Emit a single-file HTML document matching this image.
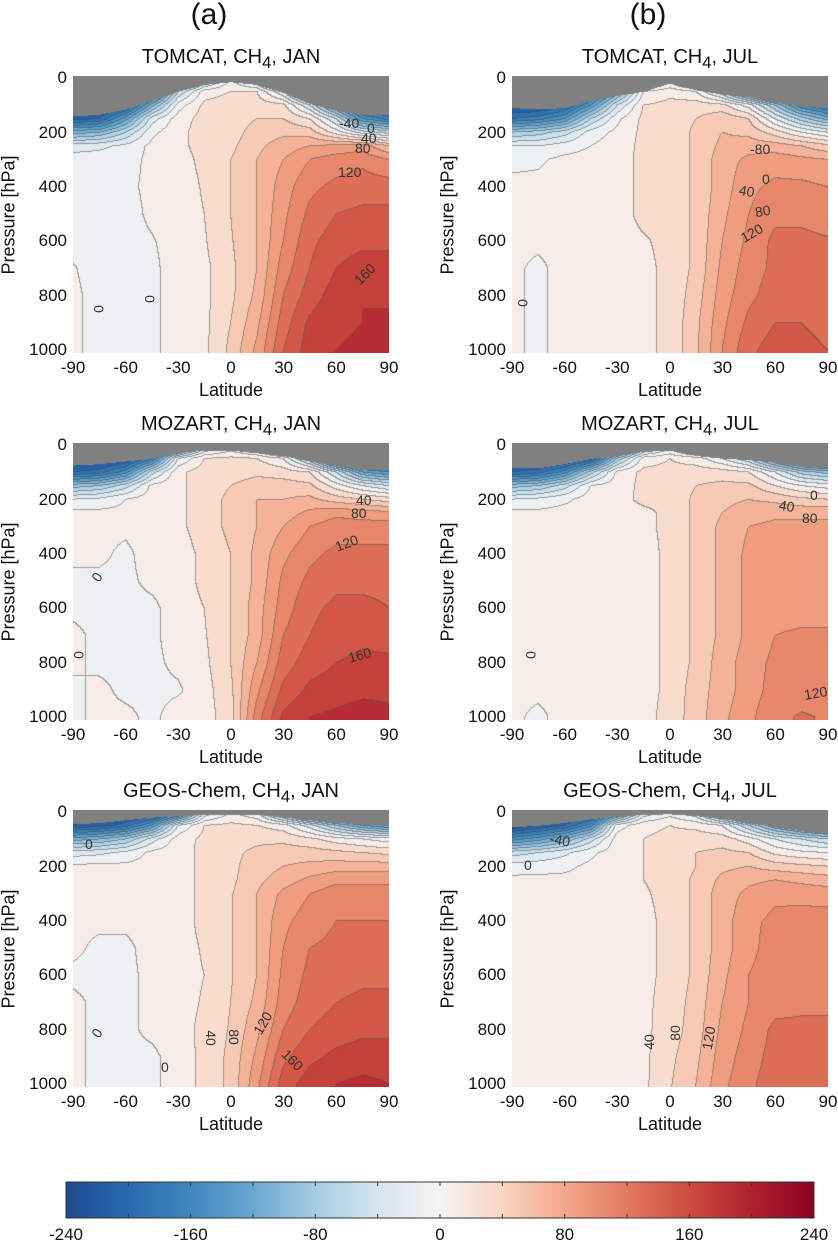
<!DOCTYPE html>
<html><head><meta charset="utf-8">
<style>
body{margin:0;background:#fff;}
#root{position:relative;width:838px;height:1242px;overflow:hidden;font-family:"Liberation Sans",Arial,sans-serif;color:#111;}
.t{position:absolute;white-space:nowrap;}
canvas{position:absolute;}
.tick{font-size:17px;}
.ttl{font-size:20px;transform:translateX(-50%);}
</style></head><body>
<div id="root"></div>
<script>
// ---- data ----
const lats=[-90,-75,-60,-45,-30,-15,0,15,30,45,60,75,90];
const pressures=[0,50,100,150,200,250,300,400,500,600,700,800,900,1000];
const latTicks=[-90,-60,-30,0,30,60,90];
const presTicks=[0,200,400,600,800,1000];
const cbarTicks=[-240,-160,-80,0,80,160,240];
// gray (no data) boundary pressure per latitude
const grayTomcatJan=[140,135,115,85,50,25,15,25,55,95,120,135,135];
const grayTomcatJul=[110,115,110,85,65,50,20,45,60,70,90,105,110];
const grayMozartJan=[75,70,60,50,30,20,20,30,40,60,75,90,90];
const grayMozartJul=[85,85,70,50,40,25,20,40,50,55,65,80,85];
const grayGeosJan=[45,40,30,20,15,10,10,10,20,30,40,45,50];
const grayGeosJul=[56,50,40,25,18,10,8,15,25,40,55,70,80];
// field values: one column per latitude, rows = pressures
const tomcatJan=[
[-240,-240,-240,-210,-110,-30,-10,-10,-10,-8,2,5,5,5],
[-240,-240,-240,-200,-100,-25,-10,-10,-10,-10,-10,-8,-8,-8],
[-240,-240,-220,-130,-60,-15,-8,-5,-10,-10,-10,-10,-10,-10],
[-240,-220,-110,-30,-5,5,5,5,5,-2,-5,-5,-5,-5],
[-200,-60,-10,10,15,15,12,10,10,10,10,10,10,10],
[-80,10,25,28,28,27,25,22,20,18,15,15,15,15],
[0,20,30,30,30,35,40,40,40,38,35,35,40,45],
[-60,20,30,40,50,55,60,60,60,60,60,65,75,85],
[-200,-40,25,40,55,70,80,90,95,100,110,120,130,140],
[-240,-160,-40,20,50,80,100,115,125,135,140,150,165,170],
[-240,-240,-140,-40,10,85,110,125,140,150,160,170,175,180],
[-240,-240,-220,-140,-30,90,115,130,145,155,170,180,180,185],
[-240,-240,-230,-170,-50,60,100,130,145,155,170,178,182,185]];
const tomcatJul=[
[-240,-240,-230,-180,-80,-20,-5,5,5,5,5,5,5,5],
[-240,-240,-230,-170,-70,-20,-3,5,5,5,-5,-5,-5,-5],
[-240,-240,-210,-140,-50,-10,5,8,8,8,8,8,8,8],
[-240,-210,-140,-60,-10,0,8,10,10,10,10,10,10,10],
[-240,-120,-40,-5,5,10,12,12,12,12,12,12,12,12],
[-120,0,20,25,25,25,25,25,25,18,15,15,15,15],
[-40,15,25,25,25,25,25,25,25,25,25,25,25,25],
[-120,0,30,40,45,45,45,45,45,45,45,50,55,55],
[-240,-60,25,55,60,65,70,70,75,80,85,90,95,100],
[-240,-160,-10,40,55,70,85,95,100,105,110,115,125,135],
[-240,-240,-80,-20,30,70,90,105,115,125,125,130,140,150],
[-240,-240,-160,-70,0,60,85,105,115,125,125,130,140,145],
[-240,-240,-190,-110,-20,45,80,100,110,122,125,130,135,140]];
const mozartJan=[
[-240,-240,-200,-90,-20,5,5,5,-5,-5,5,5,-5,-5],
[-240,-240,-190,-80,-15,5,5,5,-5,-5,-5,-5,5,5],
[-240,-230,-150,-50,0,5,5,-5,-5,-5,-5,-5,-5,5],
[-240,-170,-50,5,10,10,10,10,5,-5,-5,-5,-5,-5],
[-200,-20,15,15,15,15,15,10,10,10,10,5,-3,10],
[-60,20,30,30,30,30,30,25,25,20,18,15,12,12],
[-20,25,30,40,45,45,45,40,40,40,40,40,35,30],
[-60,20,35,50,60,60,60,65,65,70,70,80,95,110],
[-160,0,30,50,60,70,80,95,105,110,120,130,145,165],
[-240,-80,20,45,65,85,100,115,125,135,140,150,165,180],
[-240,-200,-40,10,50,95,110,125,135,145,150,160,170,185],
[-240,-240,-120,-20,40,90,110,125,135,145,155,165,175,190],
[-240,-240,-140,-40,30,85,110,125,135,140,150,165,175,185]];
const mozartJul=[
[-240,-240,-200,-90,-20,5,5,5,5,5,5,5,5,5],
[-240,-240,-190,-80,-15,5,5,5,5,5,5,5,5,-5],
[-240,-240,-150,-50,-5,8,8,8,8,8,8,8,8,8],
[-240,-210,-70,0,10,10,10,10,10,10,10,10,10,10],
[-240,-80,5,10,12,12,12,12,12,12,12,12,12,12],
[-100,10,25,25,25,15,15,12,12,12,12,12,12,12],
[-40,20,25,25,25,25,25,25,25,25,25,25,25,28],
[-120,10,30,40,45,45,45,45,45,45,45,45,50,50],
[-200,-20,30,45,55,60,65,65,65,65,65,70,70,75],
[-240,-60,20,45,60,70,80,85,85,85,85,90,90,95],
[-240,-140,-20,20,55,75,85,90,95,95,100,105,108,115],
[-240,-200,-70,0,45,75,85,90,95,95,102,108,112,122],
[-240,-220,-90,-10,40,75,85,90,95,95,102,108,110,118]];
const geosJan=[
[-240,-220,-110,-30,5,5,5,5,5,-5,5,5,5,5],
[-240,-210,-100,-25,5,5,5,5,-5,-5,-5,-5,-5,-5],
[-240,-190,-80,-15,5,5,5,5,-5,-5,-5,-5,-5,-5],
[-240,-140,-30,5,8,8,8,8,8,5,5,5,-5,-5],
[-200,-20,10,12,12,12,12,12,12,12,12,12,10,10],
[-40,20,25,25,25,25,25,25,22,20,22,25,25,25],
[0,25,30,35,35,35,38,38,38,38,40,42,45,45],
[-20,20,35,45,50,55,60,60,60,60,65,75,85,95],
[-120,10,35,50,60,70,85,95,100,105,110,120,135,150],
[-200,-30,25,50,65,85,100,110,120,125,130,140,155,170],
[-240,-80,10,45,70,95,110,120,125,130,140,150,165,180],
[-240,-120,0,40,70,95,110,120,125,135,145,155,170,185],
[-240,-140,-10,35,70,95,110,120,125,135,145,155,170,180]];
const geosJul=[
[-240,-240,-150,-50,-10,5,5,5,5,5,5,5,5,5],
[-240,-220,-130,-40,-8,5,5,5,5,5,5,5,5,5],
[-240,-200,-100,-25,-5,5,5,5,5,5,5,5,5,5],
[-240,-150,-50,-5,5,8,8,8,8,8,8,8,8,8],
[-160,-10,10,12,12,12,12,12,12,12,12,12,12,12],
[-40,15,20,20,20,20,18,15,15,15,15,15,15,15],
[-10,20,25,25,25,25,25,25,25,25,28,30,35,38],
[-40,15,30,40,40,45,45,45,45,45,48,50,55,60],
[-140,0,30,45,55,65,70,70,70,75,80,85,90,95],
[-220,-60,10,40,60,75,85,95,95,100,100,105,110,115],
[-240,-120,-20,15,50,80,95,105,108,110,112,125,128,132],
[-240,-160,-40,5,45,75,92,110,110,112,115,125,130,135],
[-240,-180,-60,0,40,70,90,110,110,112,115,125,130,135]];
const panelTitles=["TOMCAT, CH<sub>4</sub>, JAN","TOMCAT, CH<sub>4</sub>, JUL","MOZART, CH<sub>4</sub>, JAN","MOZART, CH<sub>4</sub>, JUL","GEOS-Chem, CH<sub>4</sub>, JAN","GEOS-Chem, CH<sub>4</sub>, JUL"];
const panelFields=[tomcatJan,tomcatJul,mozartJan,mozartJul,geosJan,geosJul];
const panelGray=[grayTomcatJan,grayTomcatJul,grayMozartJan,grayMozartJul,grayGeosJan,grayGeosJul];
const panelNames=["tomcat-jan","tomcat-jul","mozart-jan","mozart-jul","geoschem-jan","geoschem-jul"];

// ---- layout ----
const colX=[73,512], rowY=[76,443,810], PW=316, PH=277, P0=-8, P1=1010;
const root=document.getElementById('root');
const cmapStops=[[-240,[29,74,143]],[-200,[42,106,173]],[-160,[61,136,191]],[-120,[106,168,207]],[-80,[166,204,227]],[-40,[214,230,239]],[0,[246,244,243]],[40,[248,213,195]],[80,[243,168,138]],[120,[226,122,95]],[160,[204,75,63]],[200,[176,33,47]],[240,[140,0,34]]];
function cmap(v){v=Math.max(-240,Math.min(240,v));for(let i=0;i<cmapStops.length-1;i++){const a=cmapStops[i],b=cmapStops[i+1];if(v<=b[0]){const t=(v-a[0])/(b[0]-a[0]);return a[1].map((c,k)=>Math.round(c+(b[1][k]-c)*t));}}return cmapStops[12][1];}
function interp1(arr,lat){const f=(lat+90)/15;const i=Math.min(11,Math.floor(f));const t=f-i;return arr[i]*(1-t)+arr[i+1]*t;}
function field(cols,lat,p){p=Math.max(0,Math.min(1000,p));const f=(lat+90)/15;const i=Math.min(11,Math.floor(f));const t=f-i;let j=0;while(j<pressures.length-2&&p>pressures[j+1])j++;const u=(p-pressures[j])/(pressures[j+1]-pressures[j]);const a=cols[i][j]*(1-u)+cols[i][j+1]*u;const b=cols[i+1][j]*(1-u)+cols[i+1][j+1]*u;return a*(1-t)+b*t;}
function xOf(lat,x0){return x0+(lat+90)/180*PW;}
function yOf(p,y0){return y0+(p-P0)/(P1-P0)*PH;}
function addText(txt,x,y,cls,name,extra){const d=document.createElement('div');d.className='t '+(cls||'');d.innerHTML=txt;d.style.left=x+'px';d.style.top=y+'px';if(extra)Object.assign(d.style,extra);


root.appendChild(d);return d;}

addText('(a)',209,-2,'',"column-label-a",{fontSize:'30px',transform:'translateX(-50%)'});
addText('(b)',648,-2,'',"column-label-b",{fontSize:'30px',transform:'translateX(-50%)'});

for(let k=0;k<6;k++){
  const x0=colX[k%2], y0=rowY[Math.floor(k/2)];
  const cv=document.createElement('canvas');cv.width=PW;cv.height=PH;cv.style.left=x0+'px';cv.style.top=y0+'px';
  
  
  root.appendChild(cv);
  const ctx=cv.getContext('2d');const img=ctx.createImageData(PW,PH);
  const cols=panelFields[k], gray=panelGray[k];
  const band=new Int16Array(PW*PH);
  for(let y=0;y<PH;y++){const p=P0+(P1-P0)*(y+0.5)/PH;
    for(let x=0;x<PW;x++){const lat=-90+180*(x+0.5)/PW;
      if(p<interp1(gray,lat)){band[y*PW+x]=-999;}else{band[y*PW+x]=Math.floor(field(cols,lat,p)/20);}
    }}
  for(let y=0;y<PH;y++)for(let x=0;x<PW;x++){const i=y*PW+x,b=band[i];let c;
    if(b===-999)c=[128,128,128];else{c=cmap(Math.max(-12,Math.min(11,b))*20+10);
      const r=x<PW-1?band[i+1]:b, d=y<PH-1?band[i+PW]:b;
      if((r!==b&&r!==-999)||(d!==b&&d!==-999)){c=c.map(v=>Math.round(v*0.5+70*0.5));}}
    img.data[i*4]=c[0];img.data[i*4+1]=c[1];img.data[i*4+2]=c[2];img.data[i*4+3]=255;}
  ctx.putImageData(img,0,0);
  addText(panelTitles[k],x0+PW/2,y0-30,'ttl',panelNames[k]+'-title');
  latTicks.forEach(v=>{addText(String(v),xOf(v,x0),y0+PH+5,'tick','x-tick-label',{transform:'translateX(-50%)'});});
  presTicks.forEach(v=>{addText(String(v),0,yOf(v,y0)-10,'tick','y-tick-label',{width:(x0-6)+'px',textAlign:'right',left:'0px'});});
  addText('Latitude',x0+PW/2,y0+PH+27,'tick','x-axis-title',{transform:'translateX(-50%)',fontSize:'18px'});
  addText('Pressure [hPa]',x0-64,y0+PH/2,'tick','y-axis-title',{transform:'translate(-50%,-50%) rotate(-90deg)',fontSize:'18px'});
}
// contour labels (annotations)
const labels=[
[0,'120',265,96,0],[0,'80',282,72,0],[0,'40',288,62,0],[0,'0',294,52,0],[0,'-40',266,47,0],[0,'160',280,198,-45],[0,'0',22,233,90],[0,'0',73,223,90],
[1,'80',243,135,-10],[1,'40',227,115,10],[1,'0',250,103,0],[1,'-80',238,73,0],[1,'120',228,157,-30],[1,'0',7,227,90],
[2,'120',262,100,-20],[2,'80',278,70,0],[2,'40',283,57,0],[2,'160',275,212,-15],[2,'0',20,134,-60],[2,'0',2,212,90],
[3,'80',290,75,0],[3,'40',267,63,10],[3,'0',298,52,0],[3,'120',292,250,-10],[3,'0',15,212,90],
[4,'0',12,34,0],[4,'40',130,228,90],[4,'80',153,227,90],[4,'120',178,213,-60],[4,'160',208,250,45],[4,'0',20,223,-60],[4,'0',88,257,0],
[5,'0',12,55,0],[5,'40',129,232,-90],[5,'80',155,223,-90],[5,'120',185,228,-80],[5,'-40',38,30,10]];
labels.forEach(l=>{const k=l[0];const x0=colX[k%2],y0=rowY[Math.floor(k/2)];addText(l[1],x0+l[2],y0+l[3]-8,'',"contour-label",{fontSize:'14px',color:'#333',transform:'rotate('+l[4]+'deg)'});});

// colorbar
const CB={x:66,y:1182,w:748,h:36};
const svgNS='http://www.w3.org/2000/svg';
const svg=document.createElementNS(svgNS,'svg');svg.setAttribute('width',838);svg.setAttribute('height',1242);svg.style.position='absolute';svg.style.left='0';svg.style.top='0';


root.appendChild(svg);
const defs=document.createElementNS(svgNS,'defs');const lg=document.createElementNS(svgNS,'linearGradient');lg.setAttribute('id','cbg');
cmapStops.forEach(s=>{const st=document.createElementNS(svgNS,'stop');st.setAttribute('offset',((s[0]+240)/480*100)+'%');st.setAttribute('stop-color','rgb('+s[1].join(',')+')');lg.appendChild(st);});
defs.appendChild(lg);svg.appendChild(defs);
const rect=document.createElementNS(svgNS,'rect');rect.setAttribute('x',CB.x);rect.setAttribute('y',CB.y);rect.setAttribute('width',CB.w);rect.setAttribute('height',CB.h);rect.setAttribute('fill','url(#cbg)');rect.setAttribute('stroke','#333');rect.setAttribute('stroke-width','1');


svg.appendChild(rect);
function cbX(v){return CB.x+(v+240)/480*CB.w;}
for(let v=-240;v<=240;v+=40){[[CB.y,CB.y+4],[CB.y+CB.h-4,CB.y+CB.h]].forEach(s=>{const ln=document.createElementNS(svgNS,'line');ln.setAttribute('x1',cbX(v));ln.setAttribute('x2',cbX(v));ln.setAttribute('y1',s[0]);ln.setAttribute('y2',s[1]);ln.setAttribute('stroke','#333');


svg.appendChild(ln);});}
cbarTicks.forEach(v=>{addText(String(v),cbX(v),CB.y+CB.h+7,'tick','colorbar-tick-label',{transform:'translateX(-50%)'});});
</script>
</body></html>
